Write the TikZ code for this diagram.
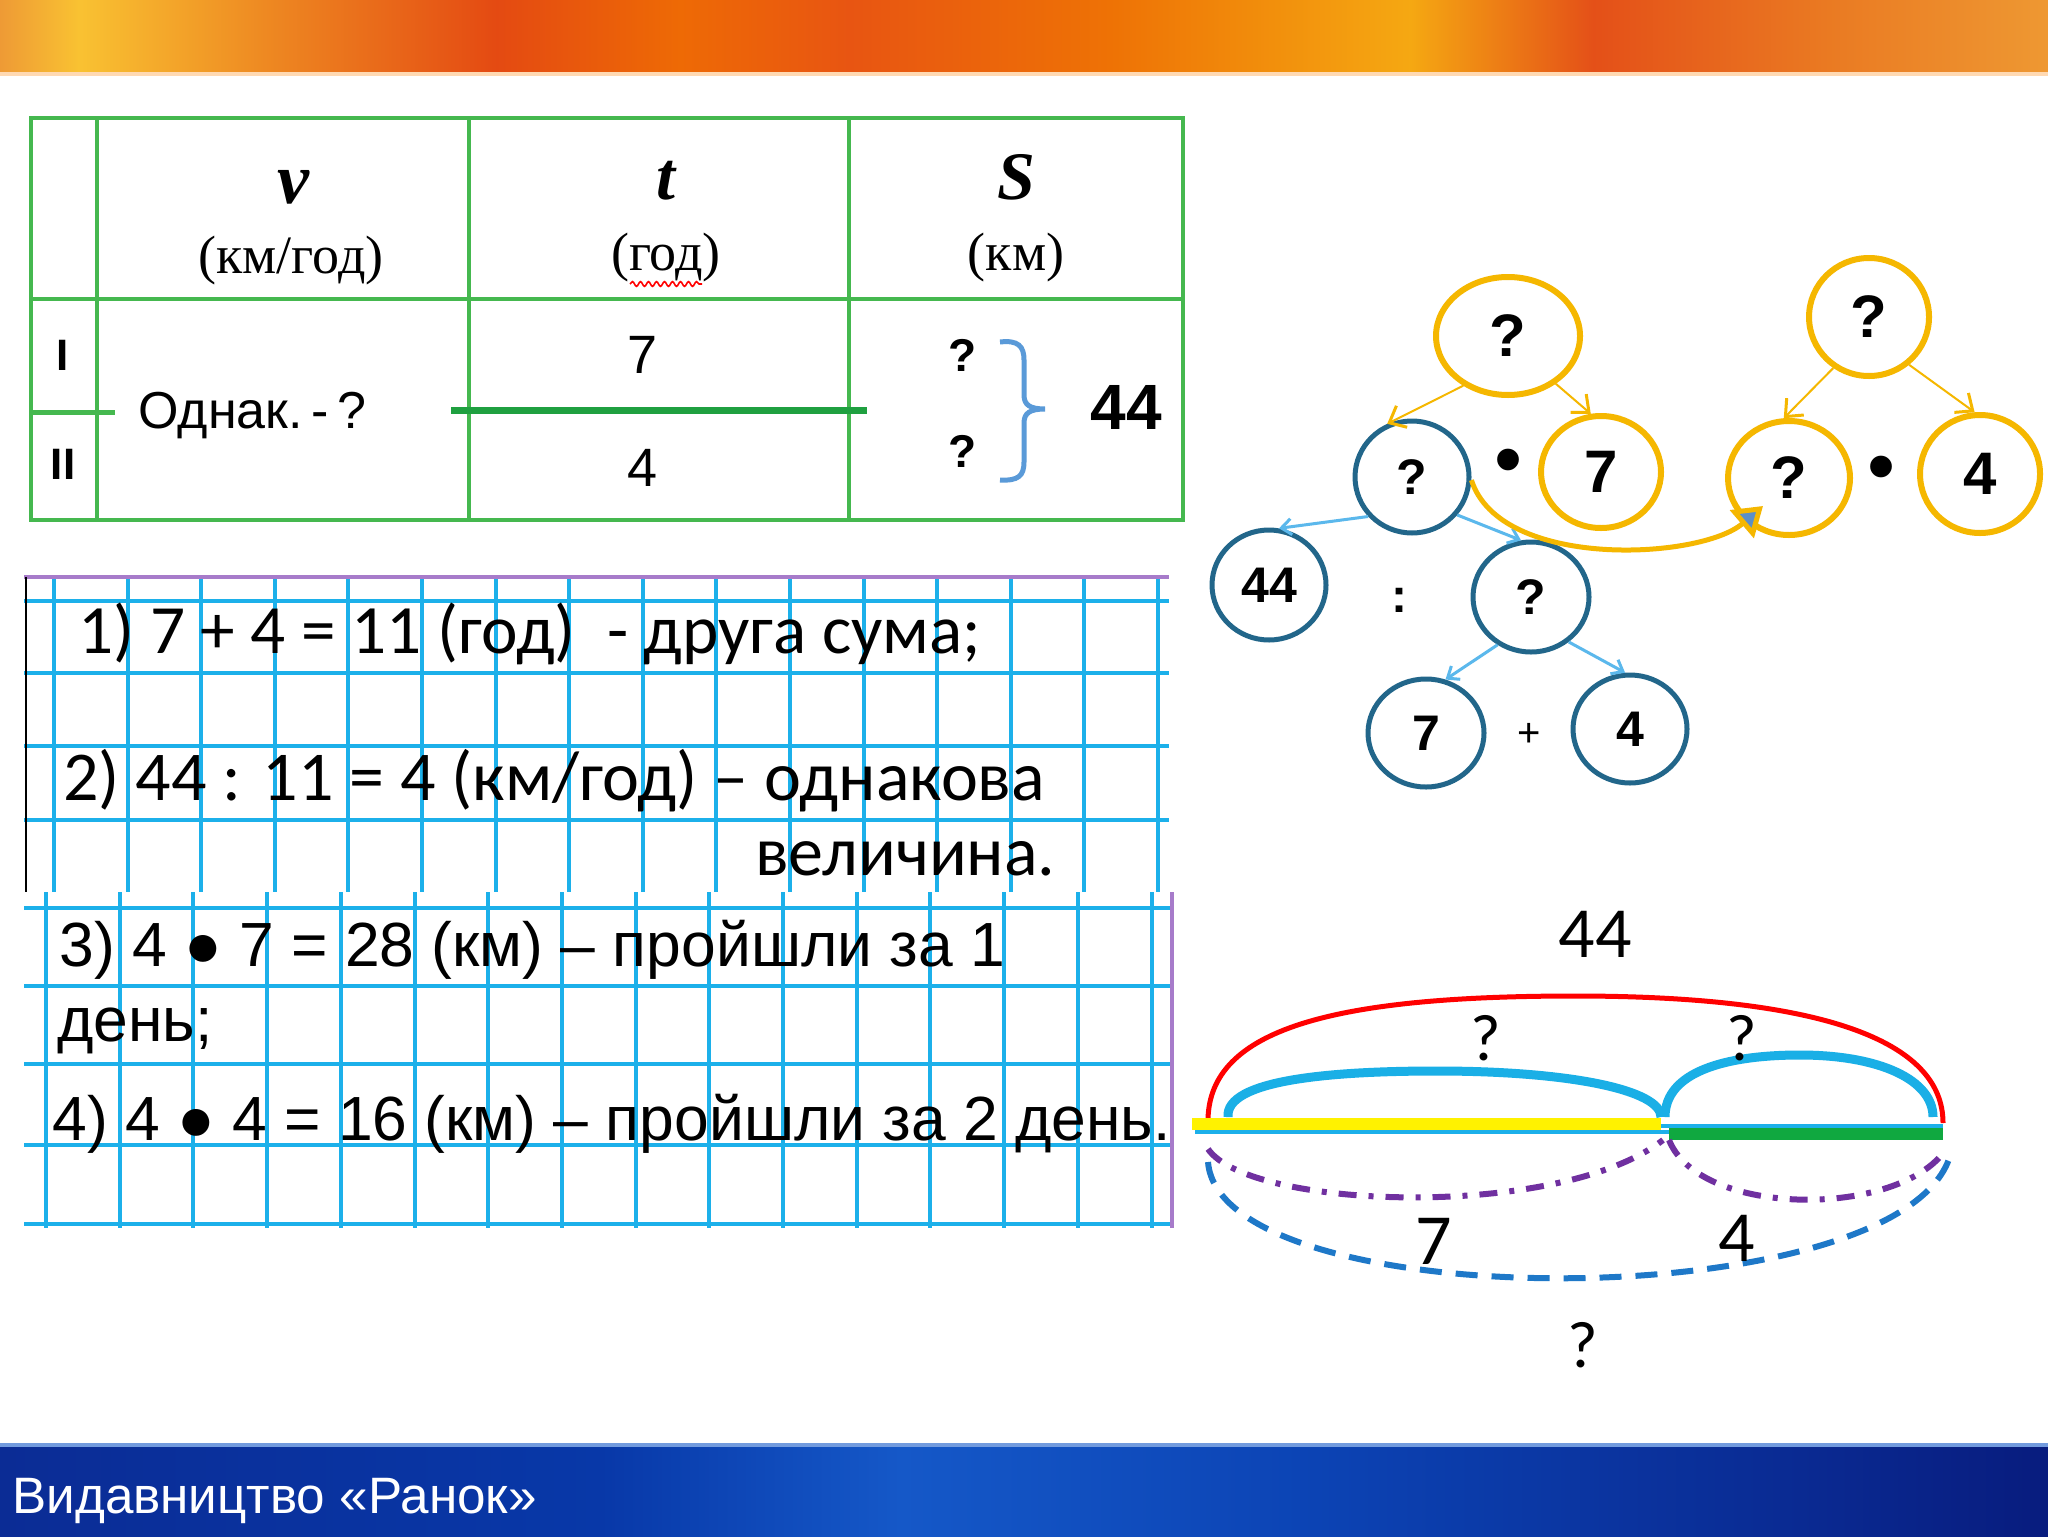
\documentclass[tikz,border=0pt]{standalone}
\usepackage{fontspec}
\usepackage{graphicx}
\setmainfont{Liberation Sans}
\newfontfamily\serifF{Liberation Serif}
\newfontfamily\calF{Carlito}
\usetikzlibrary{shapes.geometric,arrows.meta,decorations.pathmorphing}
\newcommand\myfs[1]{\fontsize{#1}{#1}\selectfont}
% header colours
\definecolor{hA}{HTML}{EE9A35}\definecolor{hB}{HTML}{F9C232}\definecolor{hC}{HTML}{EE8A22}
\definecolor{hD}{HTML}{E44A12}\definecolor{hE}{HTML}{EE6A05}\definecolor{hF}{HTML}{E85512}
\definecolor{hG}{HTML}{EE7205}\definecolor{hH}{HTML}{F5A812}\definecolor{hI}{HTML}{E45018}
\definecolor{hJ}{HTML}{EA7A22}\definecolor{hK}{HTML}{EE9832}
% footer colours
\definecolor{fA}{HTML}{0B2C95}\definecolor{fB}{HTML}{0838A8}\definecolor{fC}{HTML}{1558C8}
\definecolor{fD}{HTML}{0C44B5}\definecolor{fE}{HTML}{0A2A92}\definecolor{fF}{HTML}{081C7E}
% others
\definecolor{tgreen}{HTML}{45B84F}
\definecolor{tgreenD}{HTML}{1FA040}
\definecolor{gcyan}{HTML}{1CB0EA}
\definecolor{gpurple}{HTML}{A77BCA}
\definecolor{yel}{HTML}{F5B700}
\definecolor{bcirc}{HTML}{22668A}
\definecolor{barrow}{HTML}{5BB8EC}
\definecolor{brk}{HTML}{5A9AD8}
\definecolor{sblue}{HTML}{1AAFE6}
\definecolor{dpurple}{HTML}{7030A0}
\definecolor{dblue}{HTML}{1E78C8}
\definecolor{sgreen}{HTML}{10A840}
\definecolor{arrfill}{HTML}{5B8FC8}
\begin{document}
\begin{tikzpicture}[x=0.5pt,y=-0.5pt,
  gridl/.style={gcyan,line width=2pt},
  gridp/.style={gpurple,line width=2pt},
  tline/.style={tgreen,line width=2.2pt},
  txt/.style={inner sep=0pt,anchor=base west},
  yc/.style={ellipse,draw=yel,line width=3pt,inner sep=0pt,font=\bfseries\myfs{30pt}},
  bc/.style={ellipse,draw=bcirc,line width=2.5pt,inner sep=0pt,font=\bfseries\myfs{25pt}},
  yarr/.style={yel,line width=1pt,-{Straight Barb[length=7pt,width=12pt,line width=1.5pt]}},
  barr/.style={barrow,line width=1.5pt,-{Straight Barb[length=5pt,width=8pt]}},
  lbl/.style={inner sep=0pt}
]
\useasboundingbox (0,0) rectangle (2048,1536);
\fill[white] (0,0) rectangle (2048,1536);
% ---------- header band
\foreach \xa/\xb/\ca/\cb in {0/79/hA/hB,78/262/hB/hC,261/497/hC/hD,496/680/hD/hE,679/850/hE/hF,849/1111/hF/hG,1110/1411/hG/hH,1410/1594/hH/hI,1593/1829/hI/hJ,1828/2048/hJ/hK}
  \shade[left color=\ca,right color=\cb] (\xa,0) rectangle (\xb,72);
\fill[orange!30] (0,72) rectangle (2048,76);
% ---------- footer band
\foreach \xa/\xb/\ca/\cb in {0/601/fA/fB,600/901/fB/fC,900/1301/fC/fD,1300/1801/fD/fE,1800/2048/fE/fF}
  \shade[left color=\ca,right color=\cb] (\xa,1446) rectangle (\xb,1536);
\fill[fC!60] (0,1443) rectangle (2048,1447);
\node[txt,white,font=\myfs{25.6pt}] (pub) at (12,1513) {Видавництво «Ранок»};

% ---------- table
\draw[tline] (31,118) rectangle (1183,520);
\draw[tline] (97,118) -- (97,520);
\draw[tline] (469,118) -- (469,520);
\draw[tline] (849,118) -- (849,520);
\draw[tline] (31,299) -- (1183,299);
\draw[tgreenD,line width=3.5pt] (451,410) -- (867,410);
\draw[tgreen,line width=2.5pt] (31,412) -- (115,412);
\node[lbl,font=\bfseries\myfs{22pt}] (r1) at (63,355) {I};
\node[lbl,font=\bfseries\myfs{22pt}] (r2) at (63,464) {II};
\node[lbl,font=\serifF\bfseries\itshape\myfs{36pt}] (hv) at (293,187) {v};
\node[lbl,font=\serifF\myfs{27pt}] (hvu) at (291,261) {(км/год)};
\node[lbl,font=\serifF\bfseries\itshape\myfs{34pt}] (ht) at (666,181) {t};
\node[lbl,font=\serifF\myfs{27pt}] (htu) at (666,258) {(год)};
\draw[red,line width=0.8pt,decorate,decoration={snake,amplitude=1.2pt,segment length=4pt}] (630,284) -- (702,284);
\node[lbl,font=\serifF\bfseries\itshape\myfs{34pt}] (hs) at (1016,177) {S};
\node[lbl,font=\serifF\myfs{27pt}] (hsu) at (1016,258) {(км)};
\node[txt,font=\myfs{26pt}] (same) at (138,428) {Однак.\,-\,?};
\node[lbl,font=\myfs{27pt}] (t7) at (643,355) {7};
\node[lbl,font=\myfs{27pt}] (t4) at (643,468) {4};
\node[lbl,font=\bfseries\myfs{23pt}] (q1) at (963,355) {?};
\node[lbl,font=\bfseries\myfs{23pt}] (q2) at (963,451) {?};
\draw[brk,line width=2.5pt] (1000,342) .. controls (1018,340) and (1024,346) .. (1024,360) -- (1024,395) .. controls (1024,405) and (1030,409) .. (1045,409) .. controls (1030,409) and (1024,413) .. (1024,423) -- (1024,462) .. controls (1024,476) and (1018,481) .. (1000,480);
\node[lbl,font=\bfseries\myfs{32pt}] (s44) at (1126,407) {44};

% ---------- grid 1
\foreach \i in {0,...,15} \draw[gridl] ({54+73.6*\i},577) -- ({54+73.6*\i},892);
\foreach \yy in {601,673,746,820} \draw[gridl] (24,\yy) -- (1169,\yy);
\draw[gridp] (24,577) -- (1169,577);
\draw[black,line width=1pt] (26,577) -- (26,892);
\node[txt,font=\calF\myfs{34.6pt}] (l1) at (78,653) {1) 7 + 4 = 11 (год) \ - друга сума;};
\node[txt,font=\calF\myfs{35pt}] (l2) at (63,800) {2) 44 : 11 = 4 (км/год) – однакова};
\node[txt,font=\calF\myfs{35pt}] (l2b) at (755,875) {величина.};

% ---------- grid 2
\foreach \i in {0,...,15} \draw[gridl] ({46+73.7*\i},892) -- ({46+73.7*\i},1228);
\foreach \yy in {908,986,1064,1145,1224} \draw[gridl] (24,\yy) -- (1172,\yy);
\draw[gridp] (1172,892) -- (1172,1228);
\node[txt,font=\myfs{31.2pt}] (l3) at (59,966) {3) 4 ● 7 = 28 (км) – пройшли за 1};
\node[txt,font=\myfs{31.2pt}] (l3b) at (57,1041) {день;};
\node[txt,font=\myfs{31.2pt}] (l4) at (52,1140) {4) 4 ● 4 = 16 (км) – пройшли за 2 день.};

% ---------- tree
\node[yc,minimum width=72pt,minimum height=59pt] (Y1) at (1508,336) {?};
\node[yc,minimum width=60pt,minimum height=56pt] (Y2) at (1601,472) {7};
\node[yc,minimum width=60pt,minimum height=59pt] (Y3) at (1869,317) {?};
\node[yc,minimum width=61pt,minimum height=57pt] (Y4) at (1789,478) {?};
\node[yc,minimum width=60pt,minimum height=59pt] (Y5) at (1980,474) {4};
\node[lbl,font=\myfs{40pt}] (dot1) at (1508,468) {•};
\node[lbl,font=\myfs{40pt}] (dot2) at (1881,475) {•};
\node[bc,minimum width=57pt,minimum height=56pt] (B1) at (1412,477) {?};
\node[bc,minimum width=57pt,minimum height=55pt] (B2) at (1269,585) {44};
\node[bc,minimum width=58pt,minimum height=55pt] (B3) at (1531,597) {?};
\node[bc,minimum width=58pt,minimum height=54pt] (B4) at (1426,733) {7};
\node[bc,minimum width=57pt,minimum height=54pt] (B5) at (1630,729) {4};
\node[lbl,font=\bfseries\myfs{24pt}] (colon) at (1399,600) {:};
\node[lbl,font=\myfs{20pt}] (plus) at (1529,735) {+};
\draw[yarr] (Y1.228) -- (B1.115);
\draw[yarr] (Y1.-45) -- (Y2.100);
\draw[yarr] (Y3.235) -- (Y4.95);
\draw[yarr] (Y3.-50) -- (Y5.95);
\draw[barr] (B1.222) -- (B2.80);
\draw[barr] (B1.-40) -- (B3.100);
\draw[barr] (B3.235) -- (B4.70);
\draw[barr] (B3.-50) -- (B5.95);
\draw[yel,line width=2.5pt,-{Triangle[length=14pt,width=18pt,fill=arrfill]}] (B1.-3) .. controls (1500,570) and (1700,560) .. ([shift={(-26,28)}]Y4.center);

% ---------- segment diagram
\node[lbl,font=\calF\myfs{36pt}] (d44) at (1595,934) {44};
\draw[red,line width=2.5pt] (1208,1119) .. controls (1210,1030) and (1330,996) .. (1575,996) .. controls (1820,996) and (1943,1040) .. (1943,1123);
\draw[sblue,line width=4.5pt] (1228,1117) .. controls (1225,1080) and (1330,1071) .. (1437,1071) .. controls (1570,1071) and (1661,1090) .. (1661,1117);
\draw[sblue,line width=4.5pt] (1665,1117) .. controls (1665,1072) and (1725,1055) .. (1800,1055) .. controls (1880,1055) and (1933,1080) .. (1933,1117);
\node[lbl,font=\calF\myfs{33pt}] (dq1) at (1486,1038) {?};
\node[lbl,font=\calF\myfs{33pt}] (dq2) at (1742,1038) {?};
\draw[gcyan,line width=2pt] (1195,1132) -- (1943,1132);
\fill[yellow] (1192,1118) rectangle (1661,1130);
\draw[gcyan,line width=2pt] (1661,1126) -- (1943,1126);
\fill[sgreen] (1669,1128) rectangle (1943,1140);
\draw[dpurple,line width=3pt,dash pattern=on 9pt off 6pt on 2.5pt off 6pt] (1208,1149) .. controls (1250,1210) and (1560,1220) .. (1663,1140);
\draw[dpurple,line width=3pt,dash pattern=on 9pt off 6pt on 2.5pt off 6pt] (1669,1140) .. controls (1700,1218) and (1900,1218) .. (1946,1149);
\draw[dblue,line width=3pt,dash pattern=on 11pt off 7pt] (1208,1162) .. controls (1220,1318) and (1900,1318) .. (1950,1156);
\node[lbl,font=\calF\myfs{36pt}] (d7) at (1434,1241) {7};
\node[lbl,font=\calF\myfs{36pt}] (d4) at (1737,1238) {4};
\node[lbl,font=\calF\myfs{33pt}] (dq3) at (1583,1345) {?};
\end{tikzpicture}
\end{document}
